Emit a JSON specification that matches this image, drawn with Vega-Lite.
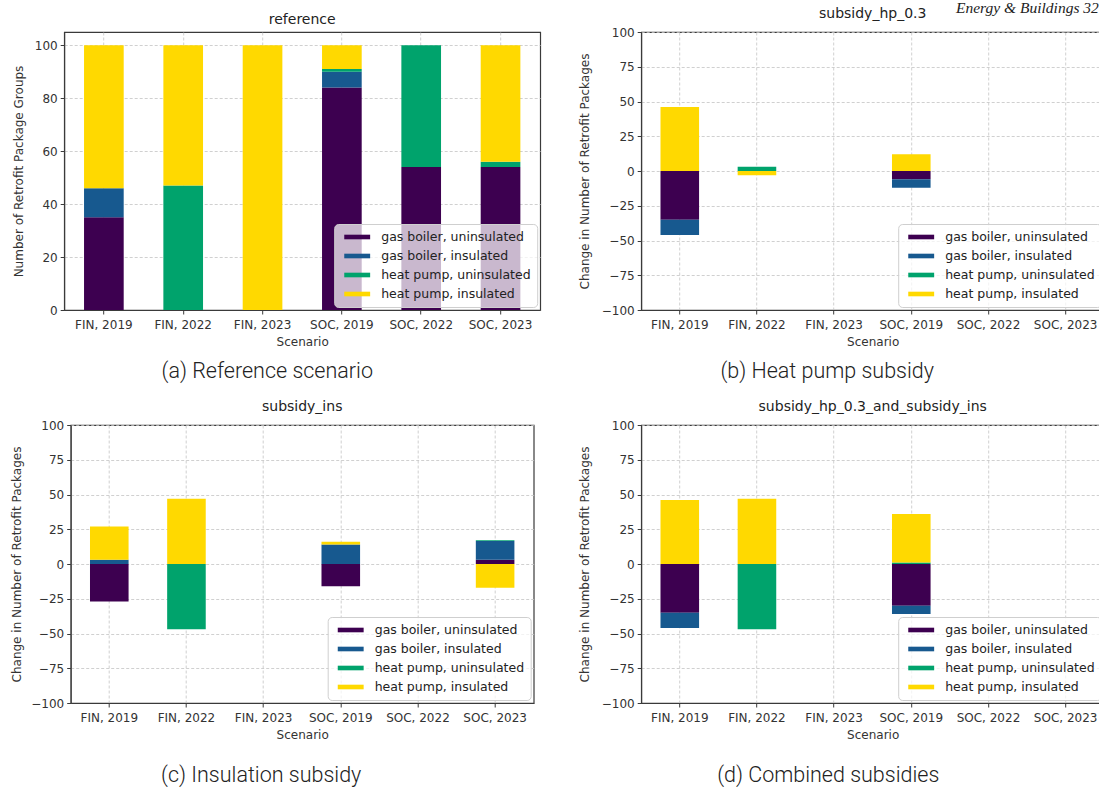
{
  "$schema": "https://vega.github.io/schema/vega-lite/v6.json",
  "padding": {"left": 10, "top": 0, "right": 0, "bottom": 0},
  "background": "white",
  "title": {"text": "Energy & Buildings 32", "anchor": "end", "frame": "bounds", "font": "Liberation Serif", "fontStyle": "italic", "fontWeight": "normal", "fontSize": 15.5, "color": "#222", "baseline": "alphabetic", "offset": -22, "dx": -6},
  "datasets": {
    "a": [
      {"scenario": "FIN, 2019", "type": "gas boiler, uninsulated", "k": 1, "value": 35},
      {"scenario": "FIN, 2019", "type": "gas boiler, insulated", "k": 2, "value": 11},
      {"scenario": "FIN, 2019", "type": "heat pump, insulated", "k": 4, "value": 54},
      {"scenario": "FIN, 2022", "type": "heat pump, uninsulated", "k": 3, "value": 47},
      {"scenario": "FIN, 2022", "type": "heat pump, insulated", "k": 4, "value": 53},
      {"scenario": "FIN, 2023", "type": "heat pump, insulated", "k": 4, "value": 100},
      {"scenario": "SOC, 2019", "type": "gas boiler, uninsulated", "k": 1, "value": 84},
      {"scenario": "SOC, 2019", "type": "gas boiler, insulated", "k": 2, "value": 6},
      {"scenario": "SOC, 2019", "type": "heat pump, uninsulated", "k": 3, "value": 1},
      {"scenario": "SOC, 2019", "type": "heat pump, insulated", "k": 4, "value": 9},
      {"scenario": "SOC, 2022", "type": "gas boiler, uninsulated", "k": 1, "value": 54},
      {"scenario": "SOC, 2022", "type": "heat pump, uninsulated", "k": 3, "value": 46},
      {"scenario": "SOC, 2023", "type": "gas boiler, uninsulated", "k": 1, "value": 54},
      {"scenario": "SOC, 2023", "type": "heat pump, uninsulated", "k": 3, "value": 2},
      {"scenario": "SOC, 2023", "type": "heat pump, insulated", "k": 4, "value": 44}
    ],
    "b": [
      {"scenario": "FIN, 2019", "type": "gas boiler, uninsulated", "k": 1, "value": -35},
      {"scenario": "FIN, 2019", "type": "gas boiler, insulated", "k": 2, "value": -11},
      {"scenario": "FIN, 2019", "type": "heat pump, insulated", "k": 4, "value": 46},
      {"scenario": "FIN, 2022", "type": "heat pump, uninsulated", "k": 3, "value": 3},
      {"scenario": "FIN, 2022", "type": "heat pump, insulated", "k": 4, "value": -3},
      {"scenario": "SOC, 2019", "type": "gas boiler, uninsulated", "k": 1, "value": -6},
      {"scenario": "SOC, 2019", "type": "gas boiler, insulated", "k": 2, "value": -6},
      {"scenario": "SOC, 2019", "type": "heat pump, insulated", "k": 4, "value": 12}
    ],
    "c": [
      {"scenario": "FIN, 2019", "type": "gas boiler, uninsulated", "k": 1, "value": -27},
      {"scenario": "FIN, 2019", "type": "gas boiler, insulated", "k": 2, "value": 3},
      {"scenario": "FIN, 2019", "type": "heat pump, insulated", "k": 4, "value": 24},
      {"scenario": "FIN, 2022", "type": "heat pump, uninsulated", "k": 3, "value": -47},
      {"scenario": "FIN, 2022", "type": "heat pump, insulated", "k": 4, "value": 47},
      {"scenario": "SOC, 2019", "type": "gas boiler, uninsulated", "k": 1, "value": -16},
      {"scenario": "SOC, 2019", "type": "gas boiler, insulated", "k": 2, "value": 14},
      {"scenario": "SOC, 2019", "type": "heat pump, insulated", "k": 4, "value": 2},
      {"scenario": "SOC, 2023", "type": "gas boiler, uninsulated", "k": 1, "value": 3},
      {"scenario": "SOC, 2023", "type": "gas boiler, insulated", "k": 2, "value": 13.5},
      {"scenario": "SOC, 2023", "type": "heat pump, uninsulated", "k": 3, "value": 0.6},
      {"scenario": "SOC, 2023", "type": "heat pump, insulated", "k": 4, "value": -17}
    ],
    "d": [
      {"scenario": "FIN, 2019", "type": "gas boiler, uninsulated", "k": 1, "value": -35},
      {"scenario": "FIN, 2019", "type": "gas boiler, insulated", "k": 2, "value": -11},
      {"scenario": "FIN, 2019", "type": "heat pump, insulated", "k": 4, "value": 46},
      {"scenario": "FIN, 2022", "type": "heat pump, uninsulated", "k": 3, "value": -47},
      {"scenario": "FIN, 2022", "type": "heat pump, insulated", "k": 4, "value": 47},
      {"scenario": "SOC, 2019", "type": "gas boiler, uninsulated", "k": 1, "value": -30},
      {"scenario": "SOC, 2019", "type": "gas boiler, insulated", "k": 2, "value": -6},
      {"scenario": "SOC, 2019", "type": "heat pump, uninsulated", "k": 3, "value": 1},
      {"scenario": "SOC, 2019", "type": "heat pump, insulated", "k": 4, "value": 35}
    ]
  },
  "spacing": 36,
  "resolve": {"scale": {"color": "independent"}, "legend": {"color": "independent"}},
  "hconcat": [
    {
      "spacing": 16,
      "center": true,
      "resolve": {"scale": {"color": "independent"}, "legend": {"color": "independent"}},
      "vconcat": [
        {
          "title": {"text": "(a) Reference scenario", "orient": "bottom", "offset": 13, "dx": -9, "anchor": "middle", "font": "Roboto", "fontWeight": 300, "fontSize": 21.5, "color": "#222", "baseline": "top"},
          "resolve": {"scale": {"color": "independent"}, "legend": {"color": "independent"}},
          "vconcat": [
            {
              "title": "reference",
              "width": 476, "height": 278,
              "data": {"name": "a"},
              "mark": {"type": "bar"},
              "encoding": {
                "x": {"field": "scenario", "type": "nominal", "sort": null,
                      "scale": {"domain": ["FIN, 2019", "FIN, 2022", "FIN, 2023", "SOC, 2019", "SOC, 2022", "SOC, 2023"], "paddingInner": 0.5, "paddingOuter": 0.25},
                      "axis": {"title": "Scenario"}},
                "y": {"field": "value", "type": "quantitative", "stack": "zero",
                      "scale": {"domain": [0, 105], "nice": false},
                      "axis": {"title": "Number of Retrofit Package Groups", "values": [0, 20, 40, 60, 80, 100], "titlePadding": 9}},
                "color": {"field": "type", "type": "nominal",
                          "scale": {"domain": ["gas boiler, uninsulated", "gas boiler, insulated", "heat pump, uninsulated", "heat pump, insulated"], "range": ["#3d0050", "#17598f", "#00a36c", "#ffd900"]}},
                "order": {"field": "k", "type": "quantitative"}
              }
            }
          ]
        },
        {
          "title": {"text": "(c) Insulation subsidy", "orient": "bottom", "offset": 24, "dx": -11, "anchor": "middle", "font": "Roboto", "fontWeight": 300, "fontSize": 21.5, "color": "#222", "baseline": "top"},
          "resolve": {"scale": {"color": "independent"}, "legend": {"color": "independent"}},
          "vconcat": [
            {
              "title": "subsidy_ins",
              "width": 463, "height": 278,
              "data": {"name": "c"},
              "mark": {"type": "bar"},
              "encoding": {
                "x": {"field": "scenario", "type": "nominal", "sort": null,
                      "scale": {"domain": ["FIN, 2019", "FIN, 2022", "FIN, 2023", "SOC, 2019", "SOC, 2022", "SOC, 2023"], "paddingInner": 0.5, "paddingOuter": 0.25},
                      "axis": {"title": "Scenario"}},
                "y": {"field": "value", "type": "quantitative", "stack": "zero",
                      "scale": {"domain": [-100, 100], "nice": false},
                      "axis": {"title": "Change in Number of Retrofit Packages", "values": [-100, -75, -50, -25, 0, 25, 50, 75, 100], "titlePadding": 7}},
                "color": {"field": "type", "type": "nominal",
                          "scale": {"domain": ["gas boiler, uninsulated", "gas boiler, insulated", "heat pump, uninsulated", "heat pump, insulated"], "range": ["#3d0050", "#17598f", "#00a36c", "#ffd900"]}},
                "order": {"field": "k", "type": "quantitative"}
              }
            }
          ]
        }
      ]
    },
    {
      "spacing": 16,
      "center": true,
      "resolve": {"scale": {"color": "independent"}, "legend": {"color": "independent"}},
      "vconcat": [
        {
          "title": {"text": "(b) Heat pump subsidy", "orient": "bottom", "offset": 13, "dx": -14, "anchor": "middle", "font": "Roboto", "fontWeight": 300, "fontSize": 21.5, "color": "#222", "baseline": "top"},
          "resolve": {"scale": {"color": "independent"}, "legend": {"color": "independent"}},
          "vconcat": [
            {
              "title": "subsidy_hp_0.3",
              "width": 463, "height": 278,
              "data": {"name": "b"},
              "mark": {"type": "bar"},
              "encoding": {
                "x": {"field": "scenario", "type": "nominal", "sort": null,
                      "scale": {"domain": ["FIN, 2019", "FIN, 2022", "FIN, 2023", "SOC, 2019", "SOC, 2022", "SOC, 2023"], "paddingInner": 0.5, "paddingOuter": 0.25},
                      "axis": {"title": "Scenario"}},
                "y": {"field": "value", "type": "quantitative", "stack": "zero",
                      "scale": {"domain": [-100, 100], "nice": false},
                      "axis": {"title": "Change in Number of Retrofit Packages", "values": [-100, -75, -50, -25, 0, 25, 50, 75, 100], "titlePadding": 10}},
                "color": {"field": "type", "type": "nominal",
                          "scale": {"domain": ["gas boiler, uninsulated", "gas boiler, insulated", "heat pump, uninsulated", "heat pump, insulated"], "range": ["#3d0050", "#17598f", "#00a36c", "#ffd900"]}},
                "order": {"field": "k", "type": "quantitative"}
              }
            }
          ]
        },
        {
          "title": {"text": "(d) Combined subsidies", "orient": "bottom", "offset": 24, "dx": -13, "anchor": "middle", "font": "Roboto", "fontWeight": 300, "fontSize": 21.5, "color": "#222", "baseline": "top"},
          "resolve": {"scale": {"color": "independent"}, "legend": {"color": "independent"}},
          "vconcat": [
            {
              "title": "subsidy_hp_0.3_and_subsidy_ins",
              "width": 463, "height": 278,
              "data": {"name": "d"},
              "mark": {"type": "bar"},
              "encoding": {
                "x": {"field": "scenario", "type": "nominal", "sort": null,
                      "scale": {"domain": ["FIN, 2019", "FIN, 2022", "FIN, 2023", "SOC, 2019", "SOC, 2022", "SOC, 2023"], "paddingInner": 0.5, "paddingOuter": 0.25},
                      "axis": {"title": "Scenario"}},
                "y": {"field": "value", "type": "quantitative", "stack": "zero",
                      "scale": {"domain": [-100, 100], "nice": false},
                      "axis": {"title": "Change in Number of Retrofit Packages", "values": [-100, -75, -50, -25, 0, 25, 50, 75, 100], "titlePadding": 10}},
                "color": {"field": "type", "type": "nominal",
                          "scale": {"domain": ["gas boiler, uninsulated", "gas boiler, insulated", "heat pump, uninsulated", "heat pump, insulated"], "range": ["#3d0050", "#17598f", "#00a36c", "#ffd900"]}},
                "order": {"field": "k", "type": "quantitative"}
              }
            }
          ]
        }
      ]
    }
  ],
  "config": {
    "view": {"stroke": "#3a3a3a", "strokeWidth": 1.2},
    "title": {"font": "DejaVu Sans", "fontSize": 14, "fontWeight": "normal", "color": "#222", "offset": 5, "baseline": "alphabetic"},
    "axis": {
      "labelFont": "DejaVu Sans", "labelFontSize": 12, "labelColor": "#333",
      "titleFont": "DejaVu Sans", "titleFontSize": 12, "titleFontWeight": "normal", "titleColor": "#333",
      "grid": true, "gridColor": "#c4c4c4", "gridDash": [3, 2], "gridWidth": 0.8,
      "tickColor": "#3a3a3a", "tickSize": 4, "domainColor": "#3a3a3a",
      "labelPadding": 3, "zindex": 1
    },
    "axisX": {"labelAngle": 0, "bandPosition": 0.5, "labelPadding": 5, "titlePadding": 6},
    "legend": {
      "title": null, "orient": "bottom-right", "offset": 3,
      "fillColor": "rgba(255,255,255,0.72)", "strokeColor": "#cfcfcf", "cornerRadius": 4,
      "padding": 6, "rowPadding": 5, "labelFont": "DejaVu Sans", "labelFontSize": 12.5, "labelColor": "#222",
      "symbolOffset": 10, "labelOffset": 17, "labelLimit": 300,
      "symbolType": "M-1.85,-0.33L1.85,-0.33L1.85,0.33L-1.85,0.33Z", "symbolSize": 196, "symbolStrokeWidth": 0, "symbolOpacity": 1
    }
  }
}
